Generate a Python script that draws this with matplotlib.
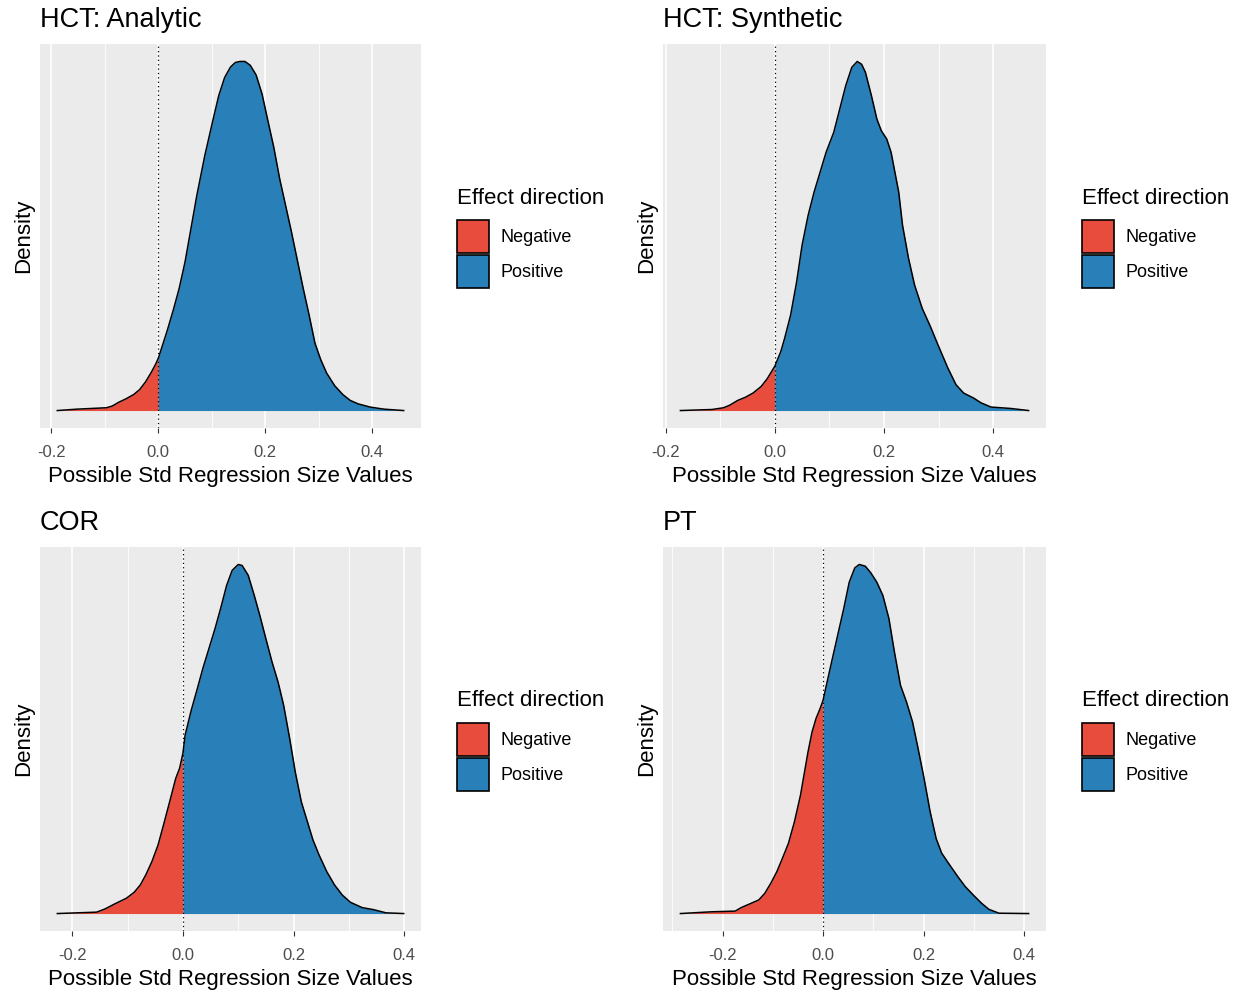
import matplotlib.pyplot as plt
from matplotlib.patches import Patch
from matplotlib.ticker import MultipleLocator, FormatStrFormatter

plt.rcParams['font.family'] = ['Liberation Sans', 'DejaVu Sans']
plt.rcParams['axes.unicode_minus'] = False

# panel titles
titles = ['HCT: Analytic', 'HCT: Synthetic', 'COR', 'PT']

# density curves (x = effect size, y = density, peak scaled to 1)
hct_analytic_x = [-0.189, -0.152, -0.097, -0.086, -0.075, -0.060, -0.046, -0.035, -0.024,
                  -0.013, -0.005, 0.0, 0.007, 0.017, 0.028, 0.039, 0.050, 0.061, 0.072,
                  0.087, 0.102, 0.113, 0.124, 0.135, 0.144, 0.153, 0.162, 0.172, 0.183,
                  0.194, 0.205, 0.216, 0.227, 0.238, 0.249, 0.260, 0.271, 0.282, 0.293,
                  0.304, 0.315, 0.330, 0.345, 0.359, 0.374, 0.396, 0.422, 0.459]
hct_analytic_y = [0.0, 0.004, 0.008, 0.013, 0.023, 0.034, 0.046, 0.060, 0.082,
                  0.110, 0.133, 0.150, 0.183, 0.231, 0.288, 0.350, 0.426, 0.521, 0.616,
                  0.731, 0.831, 0.902, 0.954, 0.984, 0.997, 1.0, 1.0, 0.989, 0.961,
                  0.907, 0.830, 0.754, 0.664, 0.588, 0.512, 0.431, 0.350, 0.274, 0.193,
                  0.145, 0.107, 0.071, 0.046, 0.029, 0.019, 0.010, 0.004, 0.0]

hct_synthetic_x = [-0.173, -0.115, -0.094, -0.083, -0.068, -0.054, -0.040, -0.025, -0.014,
                   0.0, 0.011, 0.018, 0.029, 0.040, 0.050, 0.061, 0.072, 0.083, 0.094,
                   0.108, 0.119, 0.130, 0.141, 0.151, 0.159, 0.166, 0.177, 0.187, 0.195,
                   0.205, 0.213, 0.220, 0.227, 0.234, 0.245, 0.256, 0.270, 0.285, 0.299,
                   0.317, 0.332, 0.346, 0.364, 0.378, 0.396, 0.432, 0.465]
hct_synthetic_y = [0.0, 0.003, 0.008, 0.015, 0.029, 0.038, 0.050, 0.069, 0.091,
                   0.127, 0.169, 0.207, 0.274, 0.369, 0.474, 0.559, 0.626, 0.683, 0.740,
                   0.797, 0.864, 0.931, 0.983, 1.0, 0.992, 0.969, 0.902, 0.835, 0.802,
                   0.778, 0.740, 0.683, 0.626, 0.531, 0.436, 0.360, 0.293, 0.241, 0.188,
                   0.122, 0.074, 0.050, 0.036, 0.022, 0.010, 0.006, 0.0]

cor_x = [-0.227, -0.156, -0.141, -0.124, -0.102, -0.088, -0.077, -0.067, -0.056, -0.045,
         -0.035, -0.024, -0.013, -0.006, 0.0, 0.004, 0.015, 0.026, 0.036, 0.047, 0.058,
         0.068, 0.079, 0.089, 0.100, 0.107, 0.118, 0.129, 0.139, 0.150, 0.161, 0.172,
         0.182, 0.193, 0.203, 0.214, 0.225, 0.235, 0.246, 0.260, 0.274, 0.288, 0.303,
         0.324, 0.345, 0.367, 0.399]
cor_y = [0.0, 0.004, 0.013, 0.027, 0.044, 0.061, 0.082, 0.111, 0.149, 0.196,
         0.254, 0.320, 0.387, 0.416, 0.459, 0.511, 0.582, 0.644, 0.702, 0.759, 0.816,
         0.873, 0.940, 0.983, 1.0, 0.997, 0.969, 0.911, 0.854, 0.787, 0.721, 0.663,
         0.597, 0.501, 0.406, 0.320, 0.263, 0.211, 0.168, 0.120, 0.082, 0.053, 0.032,
         0.017, 0.011, 0.002, 0.0]

pt_x = [-0.284, -0.222, -0.175, -0.163, -0.147, -0.128, -0.116, -0.104, -0.092, -0.081,
        -0.069, -0.057, -0.045, -0.038, -0.030, -0.022, -0.014, -0.006, 0.0, 0.005,
        0.017, 0.029, 0.041, 0.052, 0.063, 0.072, 0.084, 0.095, 0.107, 0.119, 0.131,
        0.142, 0.154, 0.166, 0.178, 0.189, 0.201, 0.213, 0.225, 0.236, 0.252, 0.268,
        0.283, 0.299, 0.315, 0.330, 0.350, 0.409]
pt_y = [0.0, 0.005, 0.007, 0.017, 0.027, 0.039, 0.058, 0.087, 0.120, 0.158,
        0.201, 0.263, 0.339, 0.397, 0.463, 0.520, 0.559, 0.587, 0.611, 0.644,
        0.721, 0.797, 0.873, 0.949, 0.990, 1.0, 0.995, 0.976, 0.949, 0.911, 0.845,
        0.749, 0.654, 0.606, 0.549, 0.473, 0.387, 0.292, 0.215, 0.173, 0.139, 0.106,
        0.077, 0.053, 0.030, 0.012, 0.001, 0.0]

curves = [(hct_analytic_x, hct_analytic_y), (hct_synthetic_x, hct_synthetic_y),
          (cor_x, cor_y), (pt_x, pt_y)]

legend_title = 'Effect direction'
legend_labels = ['Negative', 'Positive']
neg_color = '#E74C3C'
pos_color = '#2980B9'

W, H = 1238, 993
fig = plt.figure(figsize=(W / 100, H / 100), dpi=100)

# panel boxes in pixels: left, top, right, bottom
boxes = [(40, 44, 421, 428), (663, 44, 1046, 428),
         (40, 547, 421, 931), (663, 547, 1046, 931)]

for (l, t, r, b), title, (xs, ys) in zip(boxes, titles, curves):
    pw, ph = r - l, b - t
    ax = fig.add_axes([l / W, (H - b) / H, pw / W, ph / H])
    ax.set_facecolor('#EBEBEB')

    neg = [(x, y) for x, y in zip(xs, ys) if x <= 0]
    pos = [(x, y) for x, y in zip(xs, ys) if x >= 0]
    ax.fill_between([p[0] for p in neg], [p[1] for p in neg], color=neg_color, lw=0, zorder=2)
    ax.fill_between([p[0] for p in pos], [p[1] for p in pos], color=pos_color, lw=0, zorder=2)
    ax.plot(xs, ys, color='black', lw=1.1, zorder=3)
    ax.axvline(0, color='black', lw=0.9, ls=(0, (1, 2.5)), zorder=4)

    # ggplot-like 5% expansion
    span = max(xs) - min(xs)
    ax.set_xlim(min(xs) - 0.05 * span, max(xs) + 0.05 * span)
    top = max(ys)
    ax.set_ylim(-0.05 * top, 1.05 * top)

    ax.xaxis.set_major_locator(MultipleLocator(0.2))
    ax.xaxis.set_minor_locator(MultipleLocator(0.1))
    ax.xaxis.set_major_formatter(FormatStrFormatter('%.1f'))
    ax.grid(which='major', axis='x', color='white', lw=1.2, zorder=0)
    ax.grid(which='minor', axis='x', color='white', lw=0.6, zorder=0)
    ax.set_axisbelow(True)
    ax.tick_params(axis='x', which='major', length=3.6, width=0.8, color='#333333',
                   labelcolor='#4D4D4D', labelsize=12, pad=8.5)
    ax.tick_params(axis='x', which='minor', length=0)
    ax.set_yticks([])
    for s in ax.spines.values():
        s.set_visible(False)

    ax.set_xlabel('Possible Std Regression Size Values', fontsize=16, labelpad=4.5)
    ax.set_ylabel('Density', fontsize=16, labelpad=4)
    ax.set_title(title, loc='left', fontsize=19.5, pad=12.5)

    # legend: title as text, keys below it
    lx = 1 + 36 / pw
    ax.text(lx, 1 - 154 / ph, legend_title, transform=ax.transAxes, fontsize=16,
            ha='left', va='center')
    handles = [Patch(facecolor=neg_color, edgecolor='black', lw=1.2),
               Patch(facecolor=pos_color, edgecolor='black', lw=1.2)]
    ax.legend(handles, legend_labels, loc='upper left',
              bbox_to_anchor=(lx, 1 - 176 / ph), frameon=False, fontsize=13,
              handlelength=1.75, handleheight=2.45,
              handletextpad=0.66, labelspacing=0.1, borderpad=0, borderaxespad=0)

fig.savefig('out.png', dpi=100)
